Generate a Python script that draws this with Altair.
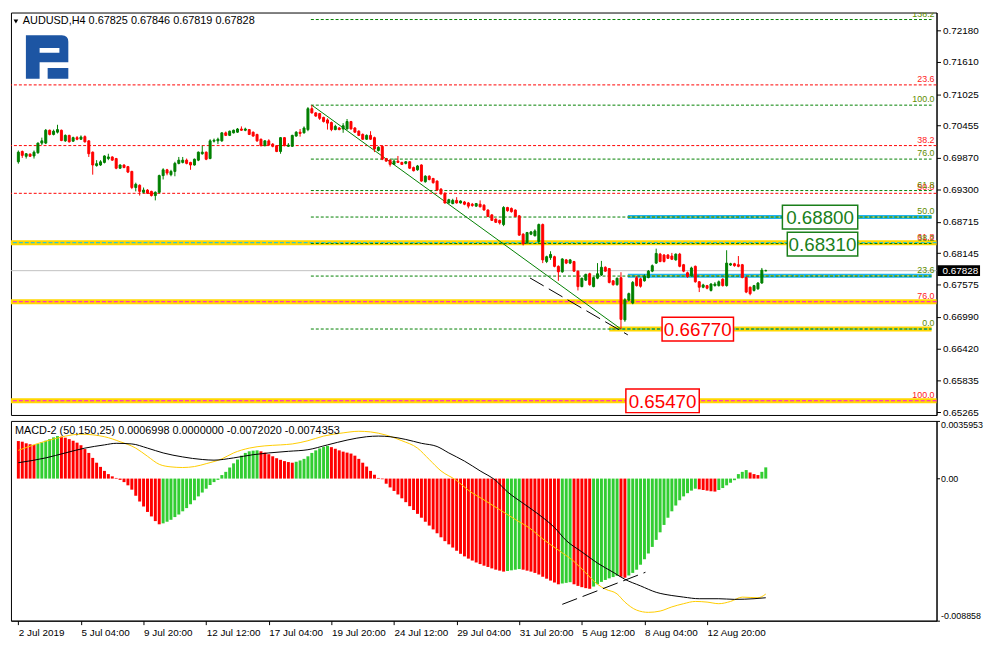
import altair as alt
import pandas as pd
import numpy as np

# ---------------- data ----------------
opens = [0.69801,0.69988,0.69901,0.69941,0.69907,0.69965,0.70140,0.70140,0.70373,0.70297,
0.70338,0.70373,0.70181,0.70280,0.70175,0.70239,0.70210,0.70257,0.70181,0.69976,
0.69732,0.69743,0.69790,0.69860,0.69889,0.69860,0.69685,0.69743,0.69714,0.69627,
0.69335,0.69376,0.69248,0.69289,0.69265,0.69189,0.69248,0.69551,0.69656,0.69568,
0.69627,0.69772,0.69790,0.69831,0.69790,0.69743,0.69831,0.69947,0.69976,0.69860,
0.70175,0.70181,0.70181,0.70326,0.70280,0.70326,0.70338,0.70396,0.70373,0.70385,
0.70338,0.70297,0.70210,0.70093,0.70181,0.70122,0.70093,0.69988,0.70239,0.70082,
0.70082,0.70268,0.70338,0.70326,0.70385,0.70764,0.70688,0.70676,0.70606,0.70560,
0.70513,0.70385,0.70414,0.70397,0.70397,0.70531,0.70414,0.70356,0.70298,0.70210,
0.70280,0.70239,0.70006,0.70082,0.69860,0.69831,0.69755,0.69814,0.69790,0.69773,
0.69802,0.69697,0.69656,0.69744,0.69440,0.69540,0.69499,0.69452,0.69306,0.69230,
0.69055,0.69044,0.69102,0.69055,0.69073,0.69055,0.69032,0.68997,0.69032,0.69015,
0.68927,0.68839,0.68763,0.68740,0.68664,0.68973,0.68956,0.68927,0.68822,0.68489,
0.68332,0.68489,0.68460,0.68355,0.68664,0.67994,0.68064,0.68081,0.67906,0.67807,
0.68023,0.67965,0.67994,0.67819,0.67539,0.67656,0.67772,0.67539,0.67691,0.67749,
0.67889,0.67866,0.67644,0.67574,0.67700,0.66935,0.67294,0.67240,0.67700,0.67680,
0.67644,0.67703,0.67819,0.67965,0.68128,0.68111,0.68111,0.68093,0.68023,0.68128,
0.67936,0.67790,0.67732,0.67907,0.67627,0.67528,0.67557,0.67469,0.67557,0.67557,
0.67674,0.67557,0.67930,0.67953,0.67936,0.67936,0.67703,0.67528,0.67469,0.67499,
0.67604,0.67825]
highs = [0.70006,0.70006,0.69959,0.69953,0.70006,0.70151,0.70239,0.70396,0.70385,0.70385,
0.70472,0.70385,0.70297,0.70291,0.70257,0.70268,0.70280,0.70280,0.70192,0.69988,
0.69831,0.69831,0.69918,0.69947,0.69901,0.69872,0.69755,0.69755,0.69726,0.69638,
0.69423,0.69393,0.69335,0.69306,0.69277,0.69265,0.69568,0.69685,0.69673,0.69656,
0.69801,0.69889,0.69889,0.69860,0.69801,0.69860,0.69988,0.70093,0.69988,0.70210,
0.70222,0.70239,0.70338,0.70350,0.70367,0.70385,0.70414,0.70443,0.70420,0.70396,
0.70350,0.70309,0.70222,0.70192,0.70210,0.70140,0.70105,0.70251,0.70251,0.70140,
0.70291,0.70356,0.70396,0.70443,0.70793,0.70828,0.70700,0.70688,0.70618,0.70589,
0.70531,0.70472,0.70432,0.70502,0.70577,0.70543,0.70432,0.70373,0.70315,0.70298,
0.70356,0.70257,0.70082,0.70094,0.69872,0.69849,0.69860,0.69907,0.69802,0.69814,
0.69814,0.69715,0.69744,0.69755,0.69557,0.69557,0.69510,0.69464,0.69324,0.69248,
0.69131,0.69131,0.69160,0.69102,0.69091,0.69073,0.69055,0.69055,0.69102,0.69032,
0.68939,0.68851,0.68775,0.68752,0.68997,0.68985,0.68973,0.68938,0.68834,0.68507,
0.68530,0.68548,0.68577,0.68682,0.68682,0.68099,0.68180,0.68099,0.67924,0.68052,
0.68040,0.68040,0.68005,0.67831,0.67702,0.67772,0.67790,0.67714,0.67965,0.68005,
0.67906,0.67877,0.67656,0.67702,0.67800,0.67330,0.67430,0.67640,0.67730,0.67700,
0.67760,0.67840,0.67940,0.68227,0.68150,0.68130,0.68130,0.68150,0.68140,0.68150,
0.67950,0.67810,0.67900,0.67920,0.67640,0.67590,0.67570,0.67600,0.67620,0.67650,
0.67690,0.68198,0.67970,0.67970,0.68093,0.67950,0.67720,0.67540,0.67570,0.67620,
0.67877,0.67846]
lows = [0.69767,0.69872,0.69860,0.69889,0.69860,0.69947,0.70105,0.70122,0.70280,0.70280,
0.70315,0.70175,0.70163,0.70151,0.70163,0.70192,0.70198,0.70151,0.69889,0.69568,
0.69714,0.69726,0.69772,0.69831,0.69819,0.69667,0.69673,0.69685,0.69597,0.69306,
0.69265,0.69189,0.69230,0.69218,0.69172,0.69102,0.69230,0.69481,0.69557,0.69539,
0.69539,0.69755,0.69772,0.69755,0.69656,0.69732,0.69813,0.69930,0.69831,0.69848,
0.70151,0.70122,0.70163,0.70268,0.70268,0.70315,0.70326,0.70362,0.70356,0.70286,
0.70257,0.70163,0.70082,0.70082,0.70093,0.70064,0.69976,0.69947,0.70082,0.70070,
0.70070,0.70257,0.70257,0.70315,0.70356,0.70676,0.70618,0.70560,0.70513,0.70385,
0.70356,0.70373,0.70373,0.70327,0.70385,0.70385,0.70327,0.70268,0.70199,0.70199,
0.70199,0.69977,0.69988,0.69831,0.69802,0.69715,0.69744,0.69779,0.69744,0.69755,
0.69674,0.69627,0.69639,0.69440,0.69423,0.69464,0.69405,0.69277,0.69207,0.69044,
0.69044,0.69032,0.69044,0.69044,0.69015,0.68957,0.68986,0.68986,0.68974,0.68916,
0.68798,0.68728,0.68693,0.68664,0.68635,0.68897,0.68880,0.68798,0.68460,0.68285,
0.68314,0.68472,0.68449,0.68314,0.67965,0.67965,0.68023,0.67889,0.67644,0.67790,
0.67947,0.67947,0.67807,0.67469,0.67527,0.67644,0.67556,0.67527,0.67673,0.67731,
0.67807,0.67597,0.67556,0.67556,0.66770,0.66900,0.67270,0.67220,0.67540,0.67520,
0.67630,0.67690,0.67800,0.67950,0.67980,0.67975,0.68040,0.68020,0.68010,0.67890,
0.67800,0.67700,0.67720,0.67610,0.67440,0.67510,0.67490,0.67450,0.67540,0.67540,
0.67540,0.67540,0.67915,0.67900,0.67890,0.67690,0.67420,0.67382,0.67450,0.67480,
0.67590,0.67819]
closes = [0.69976,0.69918,0.69947,0.69901,0.69976,0.70140,0.70181,0.70373,0.70297,0.70356,
0.70385,0.70187,0.70280,0.70163,0.70239,0.70210,0.70251,0.70163,0.69947,0.69743,
0.69767,0.69801,0.69907,0.69889,0.69831,0.69685,0.69743,0.69697,0.69615,0.69335,
0.69393,0.69265,0.69289,0.69230,0.69189,0.69248,0.69551,0.69656,0.69597,0.69627,
0.69772,0.69831,0.69831,0.69772,0.69743,0.69848,0.69976,0.69976,0.69848,0.70181,
0.70192,0.70210,0.70326,0.70280,0.70356,0.70373,0.70396,0.70373,0.70396,0.70297,
0.70268,0.70181,0.70093,0.70181,0.70105,0.70082,0.69988,0.70239,0.70093,0.70105,
0.70280,0.70338,0.70315,0.70414,0.70764,0.70688,0.70630,0.70589,0.70531,0.70502,
0.70385,0.70443,0.70385,0.70455,0.70531,0.70397,0.70338,0.70280,0.70210,0.70280,
0.70210,0.70035,0.70064,0.69849,0.69814,0.69755,0.69814,0.69790,0.69755,0.69802,
0.69685,0.69639,0.69726,0.69452,0.69540,0.69481,0.69423,0.69289,0.69219,0.69055,
0.69114,0.69102,0.69055,0.69091,0.69032,0.68997,0.69009,0.69044,0.68986,0.68927,
0.68810,0.68740,0.68705,0.68693,0.68973,0.68915,0.68897,0.68810,0.68472,0.68314,
0.68519,0.68530,0.68548,0.68664,0.68023,0.68081,0.68122,0.67906,0.67807,0.68040,
0.67965,0.68023,0.67819,0.67539,0.67691,0.67761,0.67574,0.67702,0.67772,0.67889,
0.67819,0.67615,0.67574,0.67691,0.66945,0.67300,0.67411,0.67615,0.67557,0.67545,
0.67732,0.67819,0.67918,0.68140,0.67994,0.67994,0.68052,0.68035,0.68128,0.67907,
0.67819,0.67720,0.67877,0.67627,0.67528,0.67569,0.67510,0.67586,0.67586,0.67627,
0.67557,0.67965,0.67953,0.67918,0.67907,0.67703,0.67440,0.67411,0.67557,0.67604,
0.67837,0.67828]

# MACD histogram, in units of 1e-5
macd_hist_e5 = [234,230,220,214,210, 216,226,236,246,257,265,
261,255,246,236,224,208,184,160,129,99,73,48,28,14,4,
-8,-22,-42,-69,-107,-143,-174,-208,-236,-265,-285,
-279,-269,-257,-240,-224,-204,-184,-160,-135,-111,-87,-63,-40,-22,-8,
22,42,69,95,119,143,160,170,174,176,
170,162,152,139,127,117,109,103,99,
105,113,123,139,160,176,188,198,204,
196,186,176,168,162,156,143,123,99,75,48,24,4,
-4,
-32,-55,-77,-99,-123,-147,-172,-196,-220,-244,-269,-293,-317,-341,-366,-390,
-410,-430,-450,-469,-485,-499,-511,-523,-533,-543,-551,-560,-568,-574,-580,
-576,-572,-568,-564,
-568,-574,-580,-588,-598,-612,-624,-636,-648,-659,
-654,-650,-646,
-659,-669,-677,-683,-687,
-673,-659,-644,-632,-622,-614,-606,
-612,-618,
-604,-588,-568,-537,-503,-467,-426,-382,-335,-289,-244,-204,-168,-135,-111,-91,-75,-63,
-67,-71,-75,-79,-81,
-71,-59,-42,-26,-10,
28,42,53,
38,28,22,
42,70]

yellow_idx = [0,8,16,22,26,30,33,36,39,42,45,48,52,55,59,63,67,70,74,78,83,87,90,94,98,102,105,108,
              112,115,119,123,127,131,134,138,142,145,148,150,153,155,158,161,164,167,170,173,176,179,182,185,189,191]
yellow_e5 = [176,240,277,261,230,190,139,89,73,69,75,93,123,160,190,204,210,216,236,265,285,295,291,271,236,190,119,48,
             -12,-73,-133,-194,-255,-315,-376,-446,-517,-588,-659,-689,-719,-770,-820,-834,-826,-800,-780,-766,-770,-780,-766,-739,-743,-720]
black_idx = [0,7,12,17,22,25,29,33,37,42,47,50,55,60,64,69,74,79,84,89,92,95,99,103,107,110,114,118,122,125,
             129,133,137,140,144,148,152,155,159,163,167,170,174,179,183,188,191]
black_e5 = [99,129,160,190,210,220,216,190,160,135,119,115,129,149,160,170,180,210,240,261,265,261,244,220,200,160,109,48,-12,-83,
            -154,-224,-305,-386,-457,-527,-584,-628,-669,-709,-729,-739,-749,-749,-753,-749,-743]

date_ticks = [0,16,32,48,64,80,96,112,128,144,160,176]
date_labels = ["2 Jul 2019","5 Jul 04:00","9 Jul 20:00","12 Jul 12:00","17 Jul 04:00","19 Jul 20:00",
               "24 Jul 12:00","29 Jul 04:00","31 Jul 20:00","5 Aug 12:00","8 Aug 04:00","12 Aug 20:00"]
price_ticks = [0.72180,0.71610,0.71025,0.70455,0.69870,0.69300,0.68715,0.68145,0.67575,0.66990,0.66420,0.65835,0.65265]
macd_ticks = [0.0035953, 0.0, -0.008858]
macd_tick_labels = ["0.0035953", "0.00", "-0.008858"]

fib_red_prices = [0.71195,0.70095,0.69230,0.68335,0.67265,0.65470]
fib_red_names = ["23.6","38.2","50.0","61.8","76.0","100.0"]
fib_green_prices = [0.72380,0.70828,0.69850,0.69280,0.68800,0.68320,0.67730,0.66770]
fib_green_names = ["138.2","100.0","76.0","61.8","50.0","38.2","23.6","0.0"]
fib_green_start = 74.75

yellow_full = [0.68335,0.67265,0.65470]
yellow_full_dash = ["#00BFFF","#FF00FF","#FF00FF"]
yellow_part = [0.66770]
yellow_part_start = 151
cyan_part = [0.68800,0.67735]
cyan_part_start = 155.75

box_labels = ["0.68800","0.68310","0.66770","0.65470"]
box_prices = [0.68800,0.68310,0.66770,0.65470]
box_x0 = [195.25,196.5,164.5,155.25]
box_x1 = [214.5,214.5,182.75,174.0]
box_colors = ["#1a7f1a","#1a7f1a","#ff0000","#ff0000"]

trend_i = [75,154]
trend_p = [0.70828,0.66770]
dash_i = [130.75,155.75]
dash_p = [0.67696,0.66664]
mdash_i = [139.0,160.25]
mdash_v = [-0.00784,-0.00584]

current_price = 0.67828
title_text = "AUDUSD,H4  0.67825 0.67846 0.67819 0.67828"
macd_title = "MACD-2 (50,150,25) 0.0006998 0.0000000 -0.0072020 -0.0074353"

# ---------------- layout ----------------
FONT = "Liberation Sans"
W = 936
H1 = 407
H2 = 202
XDOM = [-0.625, 233.375]
PDOM = [0.65212, 0.72507]
MDOM = [-0.008858, 0.0035953]
ppp = (PDOM[1] - PDOM[0]) / H1

N = len(closes)
assert len(opens) == N and len(highs) == N and len(lows) == N and len(macd_hist_e5) == N

CANDLE_UP, CANDLE_DN = "#008000", "#ff0000"
HIST_UP, HIST_DN = "#32cd32", "#ff0000"

xs = alt.Scale(domain=XDOM, nice=False, zero=False)
ys = alt.Scale(domain=PDOM, nice=False, zero=False)
ms = alt.Scale(domain=MDOM, nice=False, zero=False)

main_yaxis = alt.Axis(orient="right", values=price_ticks, format=".5f", title=None, grid=False,
                      tickSize=4, labelPadding=2, labelFontSize=10)

XN = lambda f: alt.X(f, scale=xs, axis=None)
YN = lambda f: alt.Y(f, scale=ys, axis=main_yaxis)

cdf = pd.DataFrame({"i": np.arange(N), "o": opens, "h": highs, "l": lows, "c": closes})
cdf["col"] = np.where(cdf["c"] >= cdf["o"], CANDLE_UP, CANDLE_DN)

red_df = pd.DataFrame({"p": fib_red_prices, "name": fib_red_names})
green_df = pd.DataFrame({"p": fib_green_prices, "name": fib_green_names,
                         "x0": fib_green_start, "x1": XDOM[1]})
yf_df = pd.DataFrame({"p": yellow_full, "dc": yellow_full_dash})
yp_df = pd.DataFrame({"p": yellow_part, "x0": yellow_part_start, "x1": XDOM[1]})
cp_df = pd.DataFrame({"p": cyan_part, "x0": cyan_part_start, "x1": XDOM[1]})

layers = []
layers.append(alt.Chart(red_df).mark_rule(color="#ff0000", strokeDash=[3, 2], strokeWidth=1)
              .encode(y=YN("p:Q")))
layers.append(alt.Chart(yf_df).mark_rule(color="#FFD700", strokeWidth=5).encode(y=YN("p:Q")))
layers.append(alt.Chart(yp_df).mark_rule(color="#FFD700", strokeWidth=5)
              .encode(y=YN("p:Q"), x=XN("x0:Q"), x2="x1:Q"))
layers.append(alt.Chart(cp_df).mark_rule(color="#1EB4F0", strokeWidth=4)
              .encode(y=YN("p:Q"), x=XN("x0:Q"), x2="x1:Q"))
layers.append(alt.Chart(yf_df).mark_rule(strokeDash=[4, 2], strokeWidth=1)
              .encode(y=YN("p:Q"), color=alt.Color("dc:N", scale=None)))
layers.append(alt.Chart(yp_df).mark_rule(color="#00BFFF", strokeDash=[4, 2], strokeWidth=1)
              .encode(y=YN("p:Q"), x=XN("x0:Q"), x2="x1:Q"))
layers.append(alt.Chart(cp_df).mark_rule(color="#FFD700", strokeDash=[4, 2], strokeWidth=1)
              .encode(y=YN("p:Q"), x=XN("x0:Q"), x2="x1:Q"))
layers.append(alt.Chart(green_df).mark_rule(color="#008000", strokeDash=[3, 2], strokeWidth=1)
              .encode(y=YN("p:Q"), x=XN("x0:Q"), x2="x1:Q"))
layers.append(alt.Chart(pd.DataFrame({"p": [current_price]})).mark_rule(color="#c0c0c0", strokeWidth=1)
              .encode(y=YN("p:Q")))
tr_df = pd.DataFrame({"x0": [trend_i[0]], "x1": [trend_i[1]], "y0": [trend_p[0]], "y1": [trend_p[1]]})
layers.append(alt.Chart(tr_df).mark_rule(color="#008000", strokeWidth=1)
              .encode(x=XN("x0:Q"), x2="x1:Q", y=YN("y0:Q"), y2="y1:Q"))
dd_df = pd.DataFrame({"x0": [dash_i[0]], "x1": [dash_i[1]], "y0": [dash_p[0]], "y1": [dash_p[1]]})
layers.append(alt.Chart(dd_df).mark_rule(color="#000000", strokeWidth=1, strokeDash=[16, 6])
              .encode(x=XN("x0:Q"), x2="x1:Q", y=YN("y0:Q"), y2="y1:Q"))
# candles
layers.append(alt.Chart(cdf).mark_rule(strokeWidth=1).encode(
    x=XN("i:Q"), y=YN("l:Q"), y2="h:Q",
    color=alt.Color("col:N", scale=None)))
layers.append(alt.Chart(cdf).mark_bar(width=2, strokeWidth=1).encode(
    x=XN("i:Q"), y=YN("o:Q"), y2="c:Q",
    color=alt.Color("col:N", scale=None),
    stroke=alt.Stroke("col:N", scale=None)))
# fib labels
layers.append(alt.Chart(red_df).mark_text(align="right", baseline="bottom", font=FONT, fontSize=9,
                                          color="#ff2020", dy=-1, clip=True)
              .encode(x=alt.value(W - 2), y=YN("p:Q"), text="name:N"))
layers.append(alt.Chart(green_df).mark_text(align="right", baseline="bottom", font=FONT, fontSize=9,
                                            color="#5f8c00", dy=-1, clip=True)
              .encode(x=alt.value(W - 2), y=YN("p:Q"), text="name:N"))
# price boxes
bx = pd.DataFrame({"t": box_labels, "p": box_prices, "x0": box_x0, "x1": box_x1, "col": box_colors})
bx["ytop"] = bx["p"] + 12 * ppp
bx["ybot"] = bx["p"] - 12 * ppp
bx["xm"] = (bx["x0"] + bx["x1"]) / 2
layers.append(alt.Chart(bx).mark_rect(fill="white", strokeWidth=1.5).encode(
    x=XN("x0:Q"), x2="x1:Q", y=YN("ytop:Q"), y2="ybot:Q",
    stroke=alt.Stroke("col:N", scale=None)))
layers.append(alt.Chart(bx).mark_text(font=FONT, fontSize=19, baseline="middle", align="center", dy=1).encode(
    x=XN("xm:Q"), y=YN("p:Q"), text="t:N", color=alt.Color("col:N", scale=None)))
# current price tag on the axis
tag = pd.DataFrame({"t": [f"{current_price:.5f}"], "p": [current_price]})
tag["ytop"] = tag["p"] + 5.5 * ppp
tag["ybot"] = tag["p"] - 5.5 * ppp
layers.append(alt.Chart(tag).mark_rect(fill="black").encode(
    x=alt.value(W + 1), x2=alt.value(W + 44), y=YN("ytop:Q"), y2="ybot:Q"))
layers.append(alt.Chart(tag).mark_text(font=FONT, fontSize=10, color="white", align="left", baseline="middle").encode(
    x=alt.value(W + 6), y=YN("p:Q"), text="t:N"))
# title and logo
one = pd.DataFrame({"t": [title_text]})
layers.append(alt.Chart(one).mark_point(shape="triangle-down", filled=True, size=22, color="black", opacity=1)
              .encode(x=alt.value(5), y=alt.value(9)))
layers.append(alt.Chart(one).mark_text(font=FONT, fontSize=11, align="left", baseline="middle", color="black")
              .encode(x=alt.value(12), y=alt.value(9), text="t:N"))
logo_path = ("M -0.95 -1 L 0.7 -1 Q 1 -1 1 -0.7 L 1 0.24 L -0.32 0.24 L -0.32 1 L -0.95 1 Z "
             "M -0.32 -0.42 L -0.32 -0.2 L 0.59 -0.2 L 0.59 -0.42 Z "
             "M 0.05 0.5 L 1 0.5 L 1 1 L 0.05 1 Z")
layers.append(alt.Chart(one).mark_point(shape=logo_path, filled=True, size=1936, color="#1d55a3", opacity=1)
              .encode(x=alt.value(36), y=alt.value(45)))

main = alt.layer(*layers).properties(width=W, height=H1)

# ---------------- MACD panel ----------------
hv = [v / 1e5 for v in macd_hist_e5]
hdf = pd.DataFrame({"i": np.arange(N), "v": hv, "zero": 0.0})
prev = [None] + hv[:-1]
hdf["col"] = [HIST_UP if (p is not None and v > p) else HIST_DN for v, p in zip(hv, prev)]
ydf = pd.DataFrame({"i": yellow_idx, "v": [v / 1e5 for v in yellow_e5]})
bdf = pd.DataFrame({"i": black_idx, "v": [v / 1e5 for v in black_e5]})
md_df = pd.DataFrame({"x0": [mdash_i[0]], "x1": [mdash_i[1]], "y0": [mdash_v[0]], "y1": [mdash_v[1]]})

xlabel_expr = "[" + ",".join("'" + s + "'" for s in date_labels) + "][round(datum.value/16)]"
mlabel_expr = ("datum.value > 0 ? '" + macd_tick_labels[0] + "' : (datum.value < 0 ? '"
               + macd_tick_labels[2] + "' : '" + macd_tick_labels[1] + "')")

macd_xaxis = alt.Axis(values=date_ticks, labelExpr=xlabel_expr, labelAlign="left", labelPadding=3,
                      tickSize=4, title=None, grid=False, labelOverlap=False, labelFlush=False,
                      labelFontSize=10)
macd_yaxis = alt.Axis(orient="right", values=macd_ticks, labelExpr=mlabel_expr, title=None, grid=False,
                      tickSize=3, labelPadding=1, labelFlush=True, labelFontSize=9)
MX = lambda f: alt.X(f, scale=xs, axis=macd_xaxis)
MY = lambda f: alt.Y(f, scale=ms, axis=macd_yaxis)

hist = alt.Chart(hdf).mark_bar(width=3).encode(
    x=MX("i:Q"), y=MY("v:Q"), y2="zero:Q",
    color=alt.Color("col:N", scale=None))
yl = alt.Chart(ydf).mark_line(color="#FFCC00", strokeWidth=1, interpolate="monotone").encode(
    x=MX("i:Q"), y=MY("v:Q"))
bl = alt.Chart(bdf).mark_line(color="#000000", strokeWidth=1, interpolate="monotone").encode(
    x=MX("i:Q"), y=MY("v:Q"))
mdl = alt.Chart(md_df).mark_rule(color="#000000", strokeWidth=1, strokeDash=[16, 6]).encode(
    x=MX("x0:Q"), x2="x1:Q", y=MY("y0:Q"), y2="y1:Q")
mt = alt.Chart(pd.DataFrame({"t": [macd_title]})).mark_text(
    font=FONT, fontSize=11, align="left", baseline="middle", color="black").encode(
    x=alt.value(4), y=alt.value(10), text="t:N")

macd = alt.layer(hist, yl, bl, mdl, mt).properties(width=W, height=H2)

chart = alt.vconcat(main, macd, spacing=2).properties(
    padding={"left": 0, "top": 0, "right": 0, "bottom": 0}, background="white"
).configure_view(stroke="black", strokeWidth=1).configure_axis(
    labelFont=FONT, labelColor="black", tickColor="black",
    domainColor="black", domainWidth=1, tickWidth=1
)

chart.save("out.html", embed_options={"renderer": "svg", "actions": False})
